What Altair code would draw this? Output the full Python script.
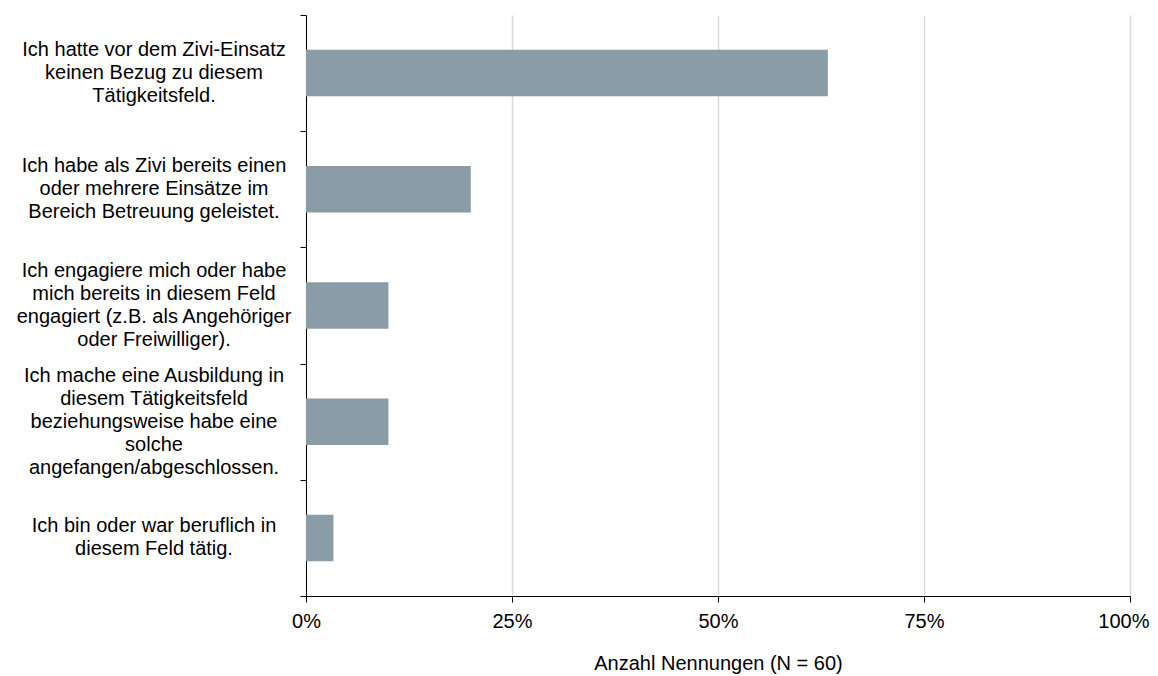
import altair as alt
import pandas as pd

categories = [
    "Ich hatte vor dem Zivi-Einsatz\nkeinen Bezug zu diesem\nTätigkeitsfeld.",
    "Ich habe als Zivi bereits einen\noder mehrere Einsätze im\nBereich Betreuung geleistet.",
    "Ich engagiere mich oder habe\nmich bereits in diesem Feld\nengagiert (z.B. als Angehöriger\noder Freiwilliger).",
    "Ich mache eine Ausbildung in\ndiesem Tätigkeitsfeld\nbeziehungsweise habe eine\nsolche\nangefangen/abgeschlossen.",
    "Ich bin oder war beruflich in\ndiesem Feld tätig.",
]
counts = [38, 12, 6, 6, 2]
n_total = 60
x_ticks = [0, 0.25, 0.5, 0.75, 1.0]

FONT = "Liberation Sans"
FS = 20
LH = 23
W, H = 824, 581
STEP = H / len(categories)

df = pd.DataFrame({
    "cat": categories,
    "share": [c / n_total for c in counts],
    # shift multi-line labels so the whole block is centred on its band
    "off": [STEP / 2 - (c.count("\n")) * LH / 2 for c in categories],
})

y_enc = alt.Y(
    "cat:N",
    sort=categories,
    scale=alt.Scale(paddingInner=0, paddingOuter=0),
    axis=alt.Axis(
        title=None,
        labels=False,
        tickBand="extent",
        domainColor="#000000",
        tickColor="#000000",
        tickSize=6,
    ),
)

bars = alt.Chart(df).mark_bar(color="#8a9ca6", height={"band": 0.4}).encode(
    x=alt.X(
        "share:Q",
        scale=alt.Scale(domain=[0, 1], nice=False),
        axis=alt.Axis(
            values=x_ticks,
            format="%",
            title="Anzahl Nennungen (N = 60)",
            grid=True,
            gridColor="#d9d9d9",
            gridWidth=1.5,
            domainColor="#000000",
            tickColor="#000000",
            tickSize=6,
            labelFlush=False,
            labelAlign={"condition": {"test": "datum.value >= 1", "value": "right"}, "value": "center"},
            labelOffset={"condition": {"test": "datum.value >= 1", "value": 19}, "value": 0},
            labelFont=FONT,
            labelFontSize=FS,
            labelColor="#000000",
            labelPadding=9,
            titleFont=FONT,
            titleFontSize=FS,
            titleFontWeight="normal",
            titleColor="#000000",
            titlePadding=22,
        ),
    ),
    y=y_enc,
)

labels = alt.Chart(df).mark_text(
    align="center",
    baseline="middle",
    lineBreak="\n",
    lineHeight=LH,
    font=FONT,
    fontSize=FS,
    color="#000000",
).encode(
    x=alt.value(-152),
    y=alt.Y("cat:N", sort=categories),
    yOffset=alt.YOffset("off:Q", scale=None),
    text="cat:N",
)

chart = alt.layer(bars, labels).properties(
    width=W,
    height=H,
    autosize=alt.AutoSizeParams(type="none"),
    padding={"left": 298, "top": 7, "right": 20, "bottom": 78},
).configure_view(stroke=None)

chart.save("out.html", embed_options={"renderer": "svg", "actions": False})
